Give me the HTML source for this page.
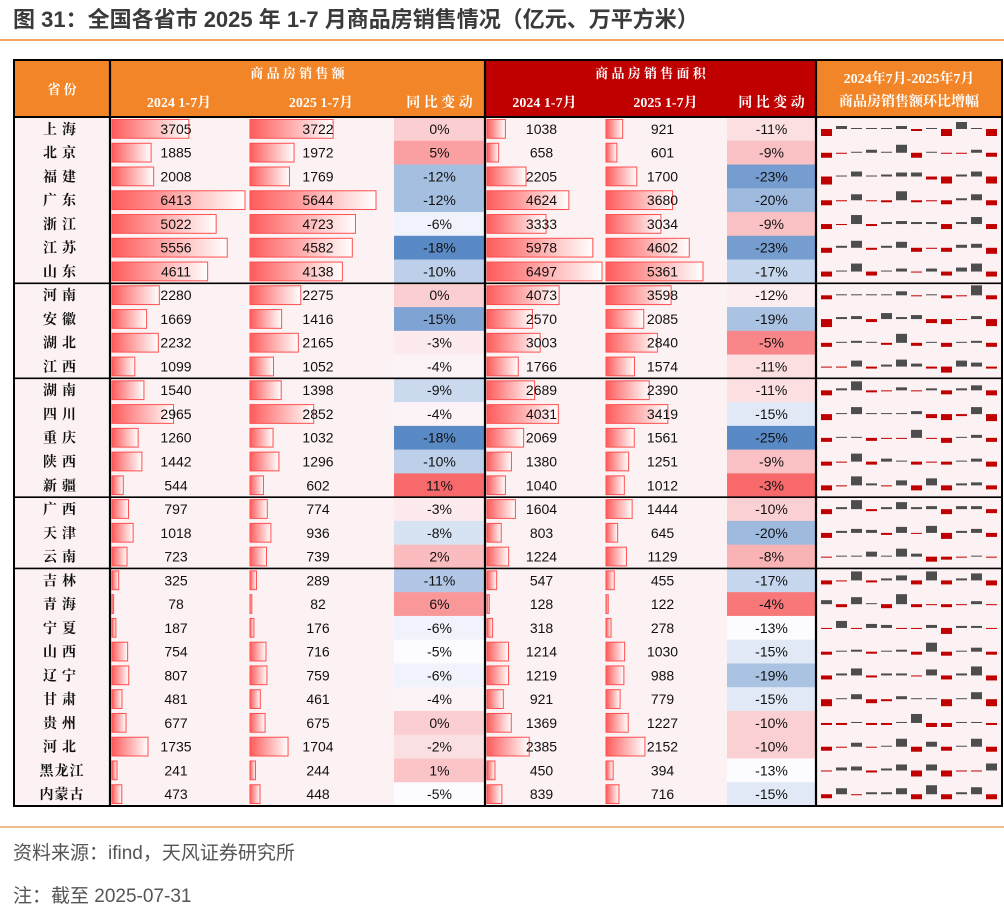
<!DOCTYPE html>
<html><head><meta charset="utf-8">
<style>
body{margin:0;background:#fff;}
svg{display:block;}
</style></head>
<body>
<svg id="chart" width="1004" height="912" xmlns="http://www.w3.org/2000/svg">
<defs>
<linearGradient id="barGrad" x1="0" x2="1" y1="0" y2="0">
<stop offset="0" stop-color="#ff5b5b"/><stop offset="1" stop-color="#ffffff"/>
</linearGradient>
</defs>
<rect x="0" y="0" width="1004" height="912" fill="#fff"/>
<text x="13" y="27" font-family="'Liberation Sans','Noto Sans CJK SC',sans-serif" font-size="22" font-weight="bold" fill="#3a3a3a">图 31：全国各省市 2025 年 1-7 月商品房销售情况（亿元、万平方米）</text>
<line x1="0" y1="40" x2="1004" y2="40" stroke="#f08a30" stroke-width="1.5"/>
<g id="tbl"></g>
<line x1="0" y1="827" x2="1004" y2="827" stroke="#e8924a" stroke-width="1.2"/>
<text x="13" y="859" font-family="'Liberation Sans','Noto Sans CJK SC',sans-serif" font-size="19" fill="#555">资料来源：ifind，天风证券研究所</text>
<text x="13" y="902" font-family="'Liberation Sans','Noto Sans CJK SC',sans-serif" font-size="19" fill="#555">注：截至 2025-07-31</text>
</svg>
<script>
const provinces=["上海","北京","福建","广东","浙江","江苏","山东","河南","安徽","湖北","江西","湖南","四川","重庆","陕西","新疆","广西","天津","云南","吉林","青海","宁夏","山西","辽宁","甘肃","贵州","河北","黑龙江","内蒙古"];
const sales2024=[3705,1885,2008,6413,5022,5556,4611,2280,1669,2232,1099,1540,2965,1260,1442,544,797,1018,723,325,78,187,754,807,481,677,1735,241,473];
const sales2025=[3722,1972,1769,5644,4723,4582,4138,2275,1416,2165,1052,1398,2852,1032,1296,602,774,936,739,289,82,176,716,759,461,675,1704,244,448];
const salesYoy=[0,5,-12,-12,-6,-18,-10,0,-15,-3,-4,-9,-4,-18,-10,11,-3,-8,2,-11,6,-6,-5,-6,-4,0,-2,1,-5];
const area2024=[1038,658,2205,4624,3333,5978,6497,4073,2570,3003,1766,2689,4031,2069,1380,1040,1604,803,1224,547,128,318,1214,1219,921,1369,2385,450,839];
const area2025=[921,601,1700,3680,3034,4602,5361,3598,2085,2840,1574,2390,3419,1561,1251,1012,1444,645,1129,455,122,278,1030,988,779,1227,2152,394,716];
const areaYoy=[-11,-9,-23,-20,-9,-23,-17,-12,-19,-5,-11,-11,-15,-25,-9,-3,-10,-20,-8,-17,-4,-13,-15,-19,-15,-10,-10,-13,-15];
const momSpark=[
[-7,3,1,1,1,3,-2,1,-7,7,1,-7],
[-5,-1,1,3,1,8,-5,1,-1,-1,3,-4],
[-8,1,5,1,2,4,4,-3,-7,2,5,-7],
[-5,-1,6,-1,-2,9,-2,-1,-4,2,6,-5],
[-5,-1,9,-2,2,3,2,2,-5,2,7,-5],
[-5,2,7,-2,2,6,-4,-1,-4,3,4,-6],
[-5,1,8,-4,1,3,-1,3,-4,4,8,-5],
[-4,1,1,1,1,4,-1,1,-3,-1,10,-4],
[-8,2,3,-3,6,2,4,-4,-5,-1,3,-7],
[-4,1,2,1,-2,9,-3,1,-4,1,2,-4],
[-1,-1,6,-2,2,7,3,-2,-6,6,4,-2],
[-5,2,9,-2,-1,3,-1,2,-4,2,5,-5],
[-6,1,7,1,1,1,3,-4,-6,-2,7,-7],
[-4,1,1,-3,-1,-1,8,-1,-5,1,3,-4],
[-4,-1,8,-3,3,1,-3,-1,-3,1,3,-5],
[-5,-1,9,2,-1,5,-5,7,-5,2,3,-4],
[-5,2,9,-2,2,7,2,3,-5,3,3,-4],
[-5,2,4,3,-2,6,-1,7,-6,2,4,-4],
[-1,1,1,5,1,8,3,-5,-3,-1,1,-1],
[-4,-1,9,-2,2,5,-4,9,-4,2,7,-5],
[4,-3,7,1,-4,10,-3,-1,-3,-1,3,-1],
[-1,7,-1,4,3,-1,-1,3,-6,2,2,-1],
[-3,1,2,-2,1,2,-3,9,-4,1,4,-3],
[-4,2,7,-2,2,2,-1,6,-4,2,9,-5],
[-7,1,5,-4,-2,3,1,1,-7,1,7,-7],
[-2,-2,1,-2,-2,1,9,-4,-4,1,1,-2],
[-4,-1,4,-1,1,8,-5,5,-4,1,8,-5],
[-1,3,4,-2,2,6,-6,6,-6,-1,-1,7],
[-4,6,-1,2,2,6,-5,9,-5,2,7,-5]
];
const groupEnds=[7,11,16,19];

const NS="http://www.w3.org/2000/svg";
const gEl=document.getElementById('tbl');
function mk(tag,attrs,parent){const e=document.createElementNS(NS,tag);for(const k in attrs)e.setAttribute(k,attrs[k]);(parent||gEl).appendChild(e);return e;}
const cols=[14,110,248,394,485,604,727,816,1002];
const tTop=60,hBot=117,bodyBot=806;
const nRows=provinces.length, rowH=(bodyBot-hBot)/nRows;
const rowY=i=>hBot+i*rowH;
const serif="'Liberation Serif','Noto Serif CJK SC',serif";
const sans="'Liberation Sans','Noto Sans CJK SC',sans-serif";

let bg=mk('rect',{x:cols[0],y:hBot,width:cols[8]-cols[0],height:bodyBot-hBot,fill:'#fdf2f3'});



function hdrRect(x1,x2,y1,y2,fill,name){const r=mk('rect',{x:x1,y:y1,width:x2-x1,height:y2-y1,fill:fill});

}
hdrRect(cols[0],cols[4],tTop,hBot,'#f28527','header-sales-bg');
hdrRect(cols[4],cols[7],tTop,hBot,'#c00000','header-area-bg');
hdrRect(cols[7],cols[8],tTop,hBot,'#f28527','header-trend-bg');
function htext(x,y,s,name,size){const t=mk('text',{x:x,y:y,'text-anchor':'middle','font-family':serif,'font-size':size||13,'font-weight':'bold',fill:'#fff'});t.textContent=s;

}
htext((cols[0]+cols[1])/2,94,'省 份','header-province');
htext((cols[1]+cols[4])/2,78,'商 品 房 销 售 额','header-sales-group');
htext((cols[4]+cols[7])/2,78,'商 品 房 销 售 面 积','header-area-group');
const subs=['2024  1-7月','2025  1-7月','同 比 变 动'];
for(let k=0;k<3;k++){htext((cols[1+k]+cols[2+k])/2,107,subs[k],'header-sales-sub-'+(k+1),14);htext((cols[4+k]+cols[5+k])/2,107,subs[k],'header-area-sub-'+(k+1),14);}
htext((cols[7]+cols[8])/2,83,'2024年7月-2025年7月','header-trend-period',14);
htext((cols[7]+cols[8])/2,106,'商品房销售额环比增幅','header-trend-title',14);

function median(a){const s=[...a].sort((x,y)=>x-y);return s[Math.floor(s.length/2)];}
function lerp(c1,c2,t){return 'rgb('+c1.map((v,i)=>Math.round(v+(c2[i]-v)*t)).join(',')+')';}
const BLUE=[90,138,198],WHITE=[252,252,255],RED=[248,105,107];
function scaleColor(v,arr){const mn=Math.min(...arr),mx=Math.max(...arr),md=median(arr);
 if(v<=md)return lerp(BLUE,WHITE,md===mn?1:(v-mn)/(md-mn));return lerp(WHITE,RED,(v-md)/(mx-md));}

const barMax=[133,126,115,97];
const barCols=[sales2024,sales2025,area2024,area2025];
const barColX=[cols[1],cols[2],cols[4],cols[5]];
const barColW=[cols[2]-cols[1],cols[3]-cols[2],cols[5]-cols[4],cols[6]-cols[5]];
const barNames=['sales-2024','sales-2025','area-2024','area-2025'];
const yoyCols=[salesYoy,areaYoy];const yoyX=[cols[3],cols[6]];const yoyW=[cols[4]-cols[3],cols[7]-cols[6]];
const yoyNames=['sales-yoy','area-yoy'];

for(let i=0;i<nRows;i++){
 const y0=rowY(i),cy=y0+rowH/2;
 const pt=mk('text',{x:(cols[0]+cols[1])/2,y:cy+5,'text-anchor':'middle','font-family':serif,'font-size':14,'font-weight':'bold',fill:'#111','letter-spacing':provinces[i].length>2?'1':'5'});
 pt.textContent=provinces[i];
 
 
 for(let k=0;k<2;k++){
  const c=mk('rect',{x:yoyX[k],y:y0,width:yoyW[k],height:rowH+0.3,fill:scaleColor(yoyCols[k][i],yoyCols[k])});
  
  
  const t=mk('text',{x:yoyX[k]+yoyW[k]/2,y:cy+5,'text-anchor':'middle','font-family':sans,'font-size':14,fill:'#111'});
  t.textContent=yoyCols[k][i]+'%';
  
  
 }
 for(let k=0;k<4;k++){
  const arr=barCols[k],mx=Math.max(...arr);
  const w=Math.max(1,arr[i]/mx*barMax[k]);
  const b=mk('rect',{x:barColX[k]+2,y:y0+2.5,width:w,height:rowH-5,fill:'url(#barGrad)',stroke:'#ff4f4f','stroke-width':1});
  
  
  const t=mk('text',{x:barColX[k]+barColW[k]/2-3,y:cy+5,'text-anchor':'middle','font-family':sans,'font-size':14,fill:'#111'});
  t.textContent=arr[i];
  
  
 }
 const base=y0+12;
 momSpark[i].forEach((v,j)=>{
  const h=Math.max(1,Math.abs(v));
  const r=mk('rect',{x:821+j*15,y:v>=0?base-h:base,width:11,height:h,fill:v>=0?'#4d4d4d':'#c00000'});
  
  
 });
}
function line(x1,y1,x2,y2,w,name){const l=mk('line',{x1:x1,y1:y1,x2:x2,y2:y2,stroke:'#000','stroke-width':w});
 
 }
groupEnds.forEach((e,k)=>line(cols[0],rowY(e),cols[8],rowY(e),1.6,'group-divider-'+k));
line(cols[0],hBot,cols[8],hBot,2,'header-bottom-border');
[cols[1],cols[4],cols[7]].forEach((x,k)=>line(x,tTop,x,bodyBot,2.2,'column-divider-'+k));
const fr=mk('rect',{x:cols[0],y:tTop,width:cols[8]-cols[0],height:bodyBot-tTop,fill:'none',stroke:'#000','stroke-width':2});


</script>
</body></html>
